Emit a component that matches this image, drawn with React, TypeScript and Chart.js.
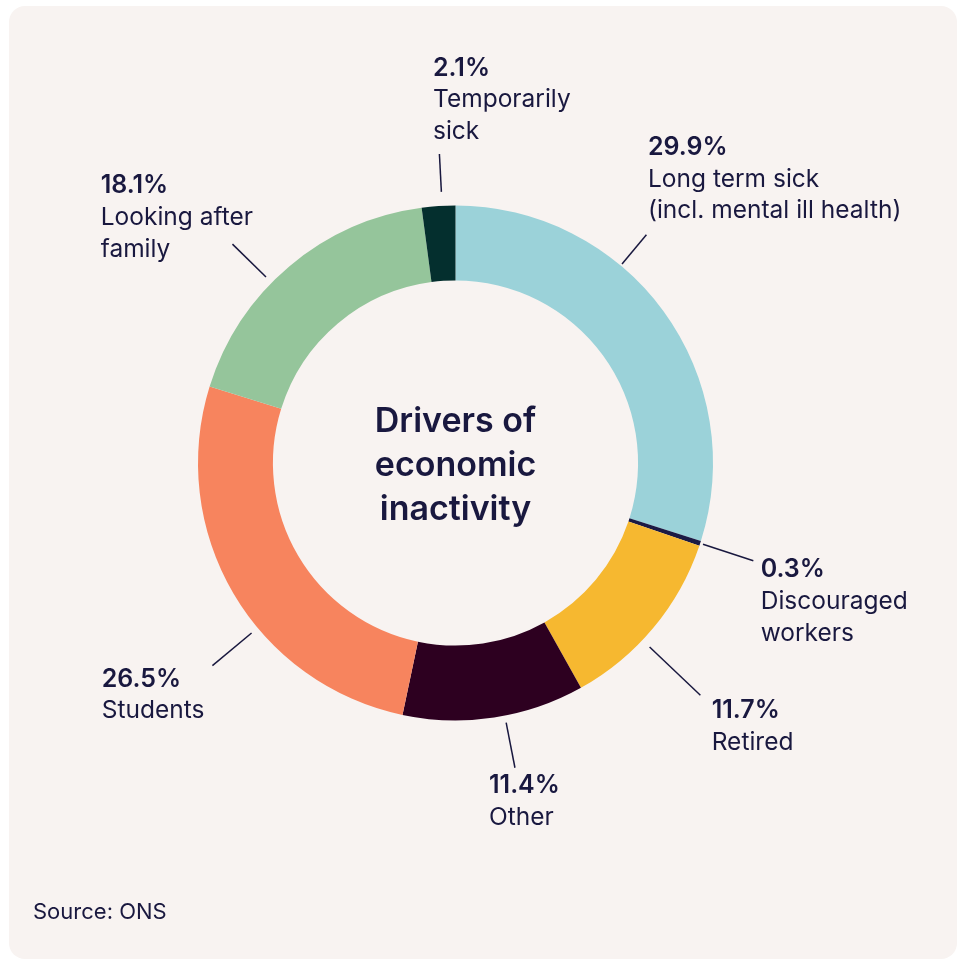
import React, { useEffect, useRef } from "react";
import { Chart, registerables } from "chart.js";

Chart.register(...registerables);

const categories = [
  "Long term sick (incl. mental ill health)",
  "Discouraged workers",
  "Retired",
  "Other",
  "Students",
  "Looking after family",
  "Temporarily sick",
];
const labelLines = [
  ["Long term sick", "(incl. mental ill health)"],
  ["Discouraged", "workers"],
  ["Retired"],
  ["Other"],
  ["Students"],
  ["Looking after", "family"],
  ["Temporarily", "sick"],
];
const values = [29.9, 0.3, 11.7, 11.4, 26.5, 18.1, 2.1];
const colors = ["#9bd2d9", "#1b1a44", "#f6b830", "#2d0020", "#f7845e", "#95c59b", "#042f2e"];
const centerTitle = ["Drivers of", "economic", "inactivity"];
const sourceText = "Source: ONS";

// label layout: leader angle offset (deg) from slice middle, leader radii beyond outer edge,
// text anchor (left x, first baseline y) relative to donut centre
const labelLayout = [
  { da: -13.9, r1: 2, r2: 40, tx: 192.5, ty: -308 },
  { da: 0, r1: 3, r2: 56, tx: 305.2, ty: 114.3 },
  { da: 3.7, r1: 10, r2: 80, tx: 256.2, ty: 255.3 },
  { da: -2.4, r1: 7, r2: 53, tx: 33.5, ty: 330.3 },
  { da: -9.4, r1: 8, r2: 59, tx: -353.8, ty: 223.7 },
  { da: -5.4, r1: 8, r2: 55, tx: -354.8, ty: -269.7 },
  { da: 0.8, r1: 14, r2: 52, tx: -22.5, ty: -387.3 },
];

const TEXT = "#19183f";
const FONT = "Inter, 'DejaVu Sans', sans-serif";

const decorPlugin = {
  id: "decor",
  beforeDraw(chart: any) {
    const ctx = chart.ctx;
    ctx.save();
    ctx.fillStyle = "#ffffff";
    ctx.fillRect(0, 0, chart.width, chart.height);
    ctx.fillStyle = "#f8f3f1";
    ctx.beginPath();
    ctx.roundRect(9, 6, 948, 953, 16);
    ctx.fill();
    ctx.restore();
  },
  afterDatasetsDraw(chart: any) {
    const ctx = chart.ctx;
    const meta = chart.getDatasetMeta(0);
    ctx.save();
    let cx = 0;
    let cy = 0;
    meta.data.forEach((arc: any, i: number) => {
      const p = arc.getProps(["x", "y", "startAngle", "endAngle", "outerRadius"], true);
      cx = p.x;
      cy = p.y;
      const L = labelLayout[i];
      const a = (p.startAngle + p.endAngle) / 2 + (L.da * Math.PI) / 180;
      const x1 = p.x + Math.cos(a) * (p.outerRadius + L.r1);
      const y1 = p.y + Math.sin(a) * (p.outerRadius + L.r1);
      const x2 = p.x + Math.cos(a) * (p.outerRadius + L.r2);
      const y2 = p.y + Math.sin(a) * (p.outerRadius + L.r2);
      ctx.strokeStyle = TEXT;
      ctx.lineWidth = 1.5;
      ctx.beginPath();
      ctx.moveTo(x1, y1);
      ctx.lineTo(x2, y2);
      ctx.stroke();

      ctx.fillStyle = TEXT;
      ctx.textAlign = "left";
      ctx.textBaseline = "alphabetic";
      const tx = p.x + L.tx;
      let ty = p.y + L.ty;
      ctx.font = `600 25px ${FONT}`;
      ctx.fillText(values[i].toFixed(1) + "%", tx, ty);
      ctx.font = `400 24.5px ${FONT}`;
      labelLines[i].forEach((line) => {
        ty += 31.7;
        ctx.fillText(line, tx, ty);
      });
    });

    ctx.fillStyle = TEXT;
    ctx.textAlign = "center";
    ctx.textBaseline = "alphabetic";
    ctx.font = `600 34px ${FONT}`;
    centerTitle.forEach((line, k) => {
      ctx.fillText(line, cx, cy - 31.3 + k * 44.2);
    });

    ctx.textAlign = "left";
    ctx.font = `400 22px ${FONT}`;
    ctx.fillText(sourceText, 33, 919.3);
    ctx.restore();
  },
};

export default function App() {
  const ref = useRef<HTMLCanvasElement | null>(null);
  useEffect(() => {
    document.body.style.margin = "0";
    const canvas = ref.current!;
    const chart = new Chart(canvas, {
      type: "doughnut",
      data: {
        labels: categories,
        datasets: [
          {
            data: values,
            backgroundColor: colors,
            borderWidth: 0,
            hoverOffset: 0,
          },
        ],
      },
      options: {
        responsive: false,
        animation: false,
        devicePixelRatio: 1,
        cutout: "70.9%",
        layout: { padding: { left: 198, right: 252, top: 205.5, bottom: 241.5 } },
        plugins: {
          legend: { display: false },
          tooltip: { enabled: false },
          title: { display: false },
        },
        events: [],
      },
      plugins: [decorPlugin],
    });
    return () => chart.destroy();
  }, []);
  return (
    <div style={{ position: "absolute", left: 0, top: 0, width: 965, height: 962 }}>
      <canvas ref={ref} width={965} height={962} style={{ display: "block", width: 965, height: 962 }} />
    </div>
  );
}
